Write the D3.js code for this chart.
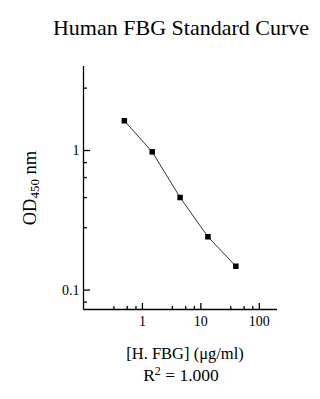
<!DOCTYPE html>
<html>
<head>
<meta charset="utf-8">
<script src="https://cdn.jsdelivr.net/npm/d3@7"></script>
<style>
  body { margin: 0; background: #fff; }
  svg { display: block; }
  text { font-family: "Liberation Serif", "Times New Roman", serif; fill: #000; }
</style>
</head>
<body>
<svg id="chart" width="320" height="399"></svg>
<script>
// Data
const concentration = [0.5, 1.5, 4.5, 13.5, 40.5];   // ug/ml
const od450 = [1.62, 0.97, 0.457, 0.239, 0.147];

// Tick values
const xMajorTicks = [1, 10, 100];
const xMinorTicks = [0.325, 0.55, 0.775, 3.25, 5.5, 7.75, 32.5, 55, 77.5];
const yMajorTicks = [0.1, 1];
const yMinorTicks = [0.082, 0.28, 0.46, 0.64, 0.82, 2.8];

const svg = d3.select("#chart");

// Plot area
const plotLeft = 83.5, plotRight = 277, plotTop = 66, plotBottom = 309.5;

var xscale = d3.scaleLog()
    .domain([0.1, 205])
    .range([plotLeft, plotRight]);

var yscale = d3.scaleLog()
    .domain([0.072, 4])
    .range([plotBottom, plotTop]);

// Minor ticks first (no labels)
svg.append("g")
    .attr("transform", "translate(0," + plotBottom + ")")
    .call(d3.axisBottom(xscale).tickValues(xMinorTicks).tickSize(-3.5).tickFormat(""))
    .call(g => g.select(".domain").remove());

svg.append("g")
    .attr("transform", "translate(" + plotLeft + ",0)")
    .call(d3.axisLeft(yscale).tickValues(yMinorTicks).tickSize(-3.5).tickFormat(""))
    .call(g => g.select(".domain").remove());

// Major ticks with labels
var x_axis = d3.axisBottom(xscale)
    .tickValues(xMajorTicks)
    .tickSizeInner(-6.5)
    .tickSizeOuter(0)
    .tickPadding(7)
    .tickFormat(d3.format(""));

var y_axis = d3.axisLeft(yscale)
    .tickValues(yMajorTicks)
    .tickSizeInner(-6.5)
    .tickSizeOuter(0)
    .tickPadding(4)
    .tickFormat(d => d === 1 ? "1" : "0.1");

svg.append("g")
    .attr("transform", "translate(0," + plotBottom + ")")
    .call(x_axis)
    .call(g => g.select(".domain").attr("d", "M" + plotLeft + ",0H" + plotRight))
    .selectAll("text")
    .style("font-size", "14px")
    .style("font-family", "Liberation Serif");

svg.append("g")
    .attr("transform", "translate(" + plotLeft + ",0)")
    .call(y_axis)
    .call(g => g.select(".domain").attr("d", "M0," + plotTop + "V" + plotBottom))
    .selectAll("text")
    .style("font-size", "14px")
    .style("font-family", "Liberation Serif");

svg.selectAll(".domain, .tick line")
    .attr("stroke", "#000")
    .attr("stroke-width", 1.3);

// Curve
const points = concentration.map((c, i) => [c, od450[i]]);

svg.append("path")
    .datum(points)
    .attr("fill", "none")
    .attr("stroke", "#333")
    .attr("stroke-width", 1)
    .attr("d", d3.line().x(d => xscale(d[0])).y(d => yscale(d[1])));

svg.selectAll("rect.pt")
    .data(points)
    .enter().append("rect")
    .attr("class", "pt")
    .attr("x", d => xscale(d[0]) - 2.75)
    .attr("y", d => yscale(d[1]) - 2.75)
    .attr("width", 5.5)
    .attr("height", 5.5)
    .attr("fill", "#000");

// Title
svg.append("text")
    .attr("x", 181)
    .attr("y", 35)
    .attr("text-anchor", "middle")
    .style("font-size", "22px")
    .text("Human FBG Standard Curve");

// Y axis title
var yTitle = svg.append("text")
    .attr("transform", "translate(36,188) rotate(-90)")
    .attr("text-anchor", "middle")
    .style("font-size", "18.5px");
yTitle.append("tspan").text("OD");
yTitle.append("tspan").attr("dy", 3).style("font-size", "13px").text("450");
yTitle.append("tspan").attr("dy", -3).text(" nm");

// X axis title
svg.append("text")
    .attr("x", 185)
    .attr("y", 359)
    .attr("text-anchor", "middle")
    .style("font-size", "16.5px")
    .text("[H. FBG] (\u03bcg/ml)");

var r2 = svg.append("text")
    .attr("x", 181)
    .attr("y", 381)
    .attr("text-anchor", "middle")
    .style("font-size", "17.5px");
r2.append("tspan").text("R");
r2.append("tspan").attr("dy", -6.5).style("font-size", "12px").text("2");
r2.append("tspan").attr("dy", 6.5).text(" = 1.000");
</script>
</body>
</html>
